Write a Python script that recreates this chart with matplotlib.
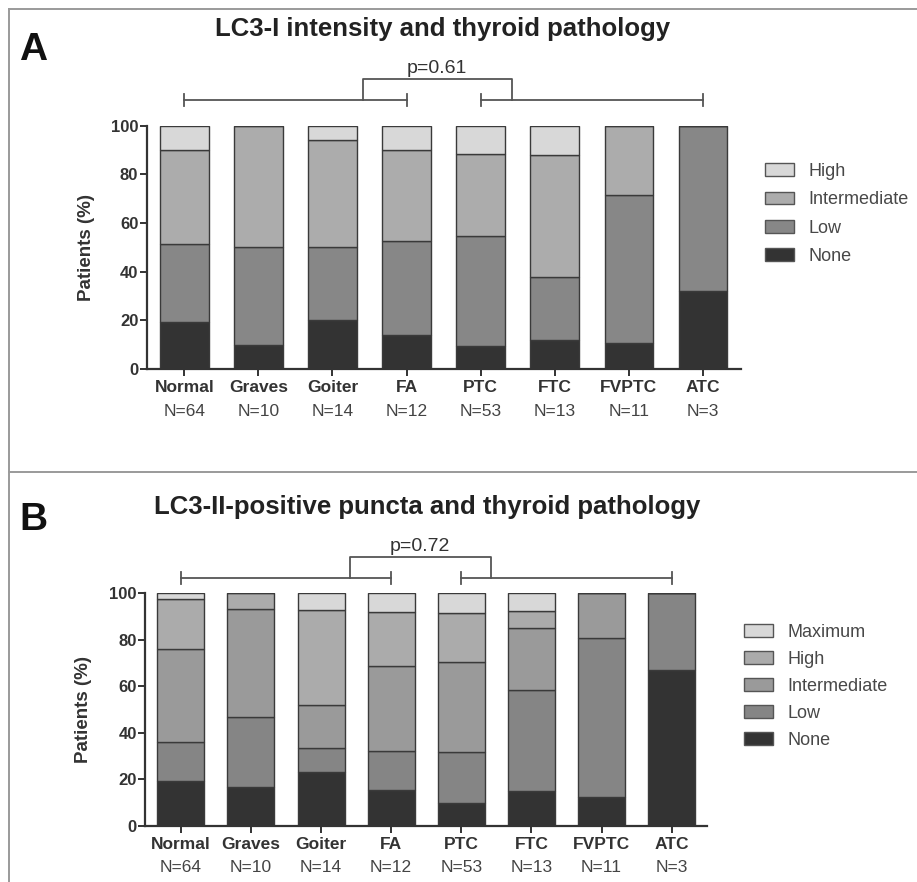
import matplotlib
matplotlib.use("Agg")
import matplotlib.pyplot as plt
from matplotlib.patches import Patch
from matplotlib.lines import Line2D
import numpy as np

plt.rcParams['font.family'] = ['Liberation Sans', 'DejaVu Sans']

# ---------------- data ----------------
categories = ['Normal', 'Graves', 'Goiter', 'FA', 'PTC', 'FTC', 'FVPTC', 'ATC']
n_patients = [64, 10, 14, 12, 53, 13, 11, 3]

# Panel A: LC3-I intensity (% of patients)
a_levels = ['None', 'Low', 'Intermediate', 'High']
a_none = [19.5, 10, 20, 14, 9.5, 12, 10.5, 32]
a_low = [32, 40, 30, 38.5, 45, 26, 61, 68]
a_intermediate = [38.5, 50, 44, 37.5, 34, 50, 28.5, 0]
a_high = [10, 0, 6, 10, 11.5, 12, 0, 0]
a_pvalue = 'p=0.61'

# Panel B: LC3-II-positive puncta (% of patients)
b_levels = ['None', 'Low', 'Intermediate', 'High', 'Maximum']
b_none = [19.3, 16.9, 23.1, 15.3, 9.9, 15.0, 12.6, 66.9]
b_low = [16.8, 29.9, 10.6, 16.9, 21.8, 43.3, 68.2, 33.1]
b_intermediate = [40.1, 46.6, 18.2, 36.6, 38.6, 27.0, 19.2, 0]
b_high = [21.5, 6.6, 40.9, 23.0, 21.1, 7.1, 0, 0]
b_maximum = [2.3, 0, 7.2, 8.2, 8.6, 7.6, 0, 0]
b_pvalue = 'p=0.72'

a_colors = ['#333333', '#878787', '#acacac', '#d8d8d8']
b_colors = ['#333333', '#858585', '#9a9a9a', '#ababab', '#d8d8d8']

W, H = 917, 882
fig = plt.figure(figsize=(W / 100, H / 100), dpi=100)
fig.patch.set_facecolor('white')


def fx(x):
    return x / W


def fy(y):
    return 1 - y / H


def frame_line(x0, y0, x1, y1):
    fig.add_artist(Line2D([fx(x0), fx(x1)], [fy(y0), fy(y1)], transform=fig.transFigure,
                          color='#9a9a9a', lw=1.4))


frame_line(9, 9, 917, 9)
frame_line(9, 9, 9, 882)
frame_line(9, 471.5, 917, 471.5)

SPINE = '#333333'
TXT = '#333333'


def make_panel(rect, xlim, width, series, colors, levels, title, title_xy, letter, letter_xy,
               pvalue, y_br, y_con, y_tick, ylabel_x, legend_anchor, legend_spacing):
    ax = fig.add_axes(rect)
    x = np.arange(len(categories))
    bottom = np.zeros(len(categories))
    handles = []
    for vals, col, lab in zip(series, colors, levels):
        vals = np.array(vals, dtype=float)
        ax.bar(x, vals, width=width, bottom=bottom, color=col, edgecolor='#3a3a3a',
               linewidth=1.0, label=lab, zorder=2)
        bottom += vals
        handles.append(Patch(facecolor=col, edgecolor='#555555', linewidth=1.0, label=lab))
    ax.set_xlim(*xlim)
    ax.set_ylim(0, 100)
    ax.set_yticks([0, 20, 40, 60, 80, 100])
    ax.set_xticks(x)
    ax.set_xticklabels(categories, fontsize=12.5, fontweight='bold', color=TXT)
    for lbl in ax.get_yticklabels():
        lbl.set_fontsize(12)
        lbl.set_fontweight('bold')
        lbl.set_color(TXT)
    for s in ['top', 'right']:
        ax.spines[s].set_visible(False)
    for s in ['left', 'bottom']:
        ax.spines[s].set_linewidth(1.6)
        ax.spines[s].set_color(SPINE)
    ax.tick_params(axis='both', direction='out', length=5, width=1.4, color=SPINE, pad=1)
    ax.tick_params(axis='x', pad=3)
    ax.set_ylabel('Patients (%)', fontsize=13.5, fontweight='bold', color=TXT)
    ax.yaxis.set_label_coords(ylabel_x, 0.5)
    for xi, n in zip(x, n_patients):
        ax.annotate(f'N={n}', xy=(xi, 0), xycoords=('data', 'axes fraction'),
                    xytext=(0, -42), textcoords='offset pixels', ha='center', va='center',
                    fontsize=12.5, color='#444444')
    # significance brackets
    bc = '#555555'
    for a, b in [(0, 3), (4, 7)]:
        ax.plot([a, b], [y_br, y_br], color=bc, lw=1.3, clip_on=False)
        for e in (a, b):
            ax.plot([e, e], [y_br - y_tick, y_br + y_tick], color=bc, lw=1.3, clip_on=False)
    c0, c1 = 2.41, 4.42
    ax.plot([c0, c0, c1, c1], [y_br, y_con, y_con, y_br], color=bc, lw=1.3, clip_on=False)
    ax.text((c0 + c1) / 2, y_con + 1.0, pvalue, ha='center', va='bottom', fontsize=14,
            color='#333333')
    # legend (top entry = highest level)
    leg = ax.legend(handles=handles[::-1], loc='upper left', bbox_to_anchor=legend_anchor,
                    bbox_transform=fig.transFigure, frameon=False, fontsize=13,
                    handlelength=1.6, handleheight=0.7, handletextpad=0.8,
                    labelspacing=legend_spacing, borderpad=0, borderaxespad=0)
    for t in leg.get_texts():
        t.set_color('#484848')
    fig.text(fx(title_xy[0]), fy(title_xy[1]), title, ha='center', va='center',
             fontsize=18.5, fontweight='bold', color='#222222')
    fig.text(fx(letter_xy[0]), fy(letter_xy[1]), letter, ha='center', va='center',
             fontsize=28, fontweight='bold', color='#111111')
    return ax


make_panel([fx(146.7), fy(369), 594 / W, 243.3 / H], (-0.507, 7.51), 0.655,
           [a_none, a_low, a_intermediate, a_high], a_colors, a_levels,
           'LC3-I intensity and thyroid pathology', (443, 29), 'A', (33, 50),
           a_pvalue, 110.6, 119.2, 2.5, -0.087, (fx(765), fy(163)), 0.63)

make_panel([fx(145), fy(826), 561.7 / W, 232.7 / H], (-0.51, 7.5), 0.67,
           [b_none, b_low, b_intermediate, b_high, b_maximum], b_colors, b_levels,
           'LC3-II-positive puncta and thyroid pathology', (427, 507), 'B', (33, 520),
           b_pvalue, 106.7, 115.5, 2.6, -0.094, (fx(744), fy(624)), 0.55)

fig.savefig('out.png', dpi=100, facecolor='white')
